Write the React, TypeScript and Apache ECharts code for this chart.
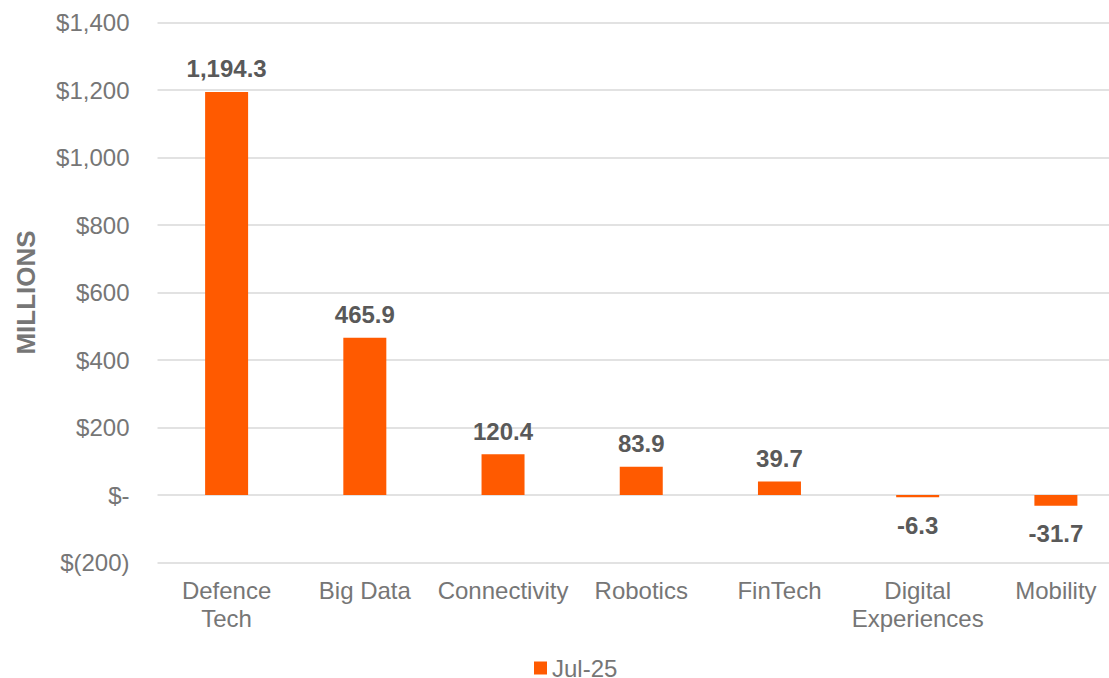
import React, { useEffect, useRef } from "react";
import * as echarts from "echarts";

const categories = ["Defence\nTech", "Big Data", "Connectivity", "Robotics", "FinTech", "Digital\nExperiences", "Mobility"];
const values = [1194.3, 465.9, 120.4, 83.9, 39.7, -6.3, -31.7];
const seriesName = "Jul-25";
const yMin = -200;
const yMax = 1400;
const yInterval = 200;

function fmtY(v: number): string {
  if (v === 0) return "$-";
  if (v < 0) return "$(" + Math.abs(v).toLocaleString("en-US") + ")";
  return "$" + v.toLocaleString("en-US");
}

export default function App() {
  const ref = useRef<HTMLDivElement>(null);
  useEffect(() => {
    document.body.style.margin = "0";
    const chart = echarts.init(ref.current!, null, { renderer: "svg" });
    const font = "'Liberation Sans', Arial, sans-serif";
    chart.setOption({
      animation: false,
      textStyle: { fontFamily: font },
      grid: { left: 157.5, right: 0, top: 22.5, height: 540, containLabel: false },
      legend: {
        data: [seriesName],
        left: 529,
        top: 651,
        itemWidth: 13,
        itemHeight: 13,
        icon: "rect",
        textStyle: { fontSize: 24, color: "#767676", fontFamily: font },
      },
      graphic: [
        {
          type: "text",
          x: 25.5,
          y: 292.5,
          rotation: Math.PI / 2,
          style: {
            text: "MILLIONS",
            fontSize: 26,
            fontWeight: "bold",
            fill: "#767676",
            fontFamily: font,
            align: "center",
            verticalAlign: "middle",
          },
        },
      ],
      xAxis: {
        type: "category",
        data: categories,
        axisLine: { show: false, onZero: false },
        axisTick: { show: false },
        axisLabel: {
          fontSize: 24,
          color: "#767676",
          lineHeight: 28,
          margin: 14,
          interval: 0,
          fontFamily: font,
        },
      },
      yAxis: {
        type: "value",
        min: yMin,
        max: yMax,
        interval: yInterval,
        axisLine: { show: false },
        axisTick: { show: false },
        splitLine: { lineStyle: { color: "#d9d9d9", width: 1.5 } },
        axisLabel: {
          fontSize: 24,
          color: "#767676",
          margin: 28,
          formatter: fmtY,
          fontFamily: font,
        },
      },
      series: [
        {
          name: seriesName,
          type: "bar",
          barWidth: 43,
          itemStyle: { color: "#FF5A00" },
          data: values.map((v) => ({
            value: v,
            label: {
              show: true,
              position: v < 0 ? "bottom" : "top",
              distance: v < 0 ? 16 : 11,
              fontSize: 24,
              fontWeight: "bold",
              color: "#595959",
              fontFamily: font,
              formatter: () => v.toLocaleString("en-US", { minimumFractionDigits: 1, maximumFractionDigits: 1 }),
            },
          })),
        },
      ],
    });
    return () => chart.dispose();
  }, []);
  return (
    <div style={{ width: 1109, height: 678, position: "absolute", left: 0, top: 0, overflow: "hidden" }}>
      <div ref={ref} style={{ width: 1125, height: 678 }} />
    </div>
  );
}
